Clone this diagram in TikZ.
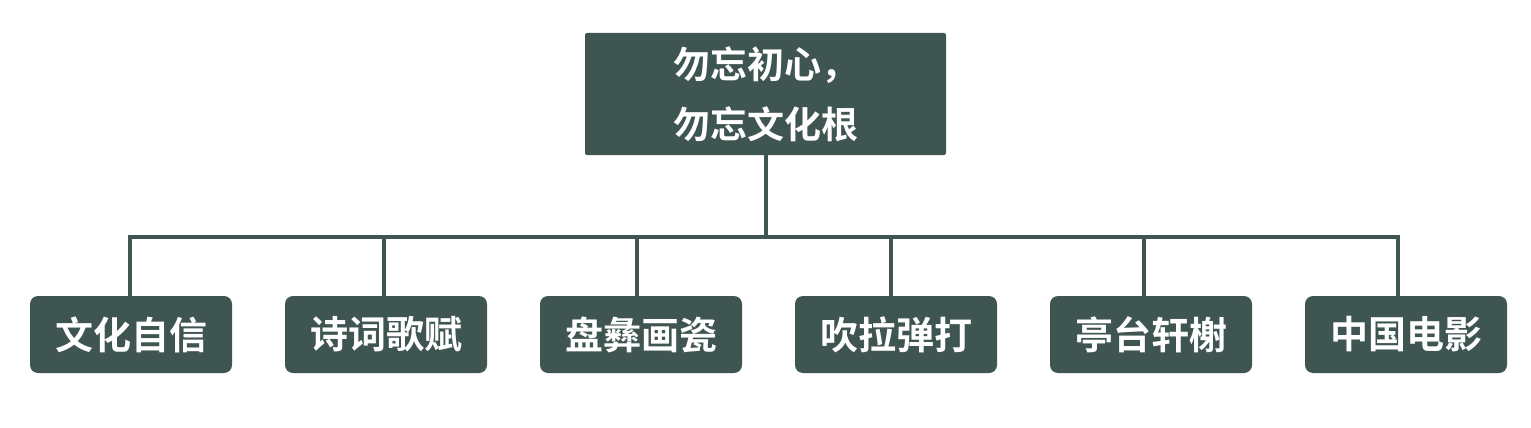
\documentclass[tikz,border=0pt]{standalone}
\usepackage{fontspec}
\newfontfamily\cjk{Noto Sans CJK SC}[BoldFont={Noto Sans CJK SC Bold}]
\definecolor{boxc}{HTML}{3E5551}
\begin{document}
\begin{tikzpicture}[x=1pt,y=-1pt,
  rootbox/.style={draw=none,fill=boxc,rounded corners=2pt,minimum width=361pt,minimum height=122pt,text=white,align=center,font=\cjk\bfseries\fontsize{37}{60}\selectfont,inner sep=0pt},
  leafbox/.style={draw=none,fill=boxc,rounded corners=8pt,minimum width=202pt,minimum height=77pt,text=white,font=\cjk\bfseries\fontsize{38}{44}\selectfont,inner sep=0pt},
  conn/.style={draw=boxc,line width=4pt}]
\useasboundingbox (0,0) rectangle (1531,428);
\node[rootbox] (root) at (765.5,94) {勿忘初心，\\勿忘文化根};
\node[leafbox] (c1) at (131,334.5) {文化自信};
\node[leafbox] (c2) at (386,334.5) {诗词歌赋};
\node[leafbox] (c3) at (641,334.5) {盘彝画瓷};
\node[leafbox] (c4) at (896,334.5) {吹拉弹打};
\node[leafbox] (c5) at (1151,334.5) {亭台轩榭};
\node[leafbox] (c6) at (1406,334.5) {中国电影};
\coordinate (bus) at (766,237);
\draw[conn] (root.south -| bus) -- (bus);
\draw[conn] (c1.north -| 130,0) |- (bus);
\draw[conn] (c2.north -| 384,0) -- (384,237);
\draw[conn] (c3.north -| 637,0) -- (637,237);
\draw[conn] (c4.north -| 891,0) -- (891,237);
\draw[conn] (c5.north -| 1144,0) -- (1144,237);
\draw[conn] (c6.north -| 1398,0) |- (bus);
\end{tikzpicture}
\end{document}
